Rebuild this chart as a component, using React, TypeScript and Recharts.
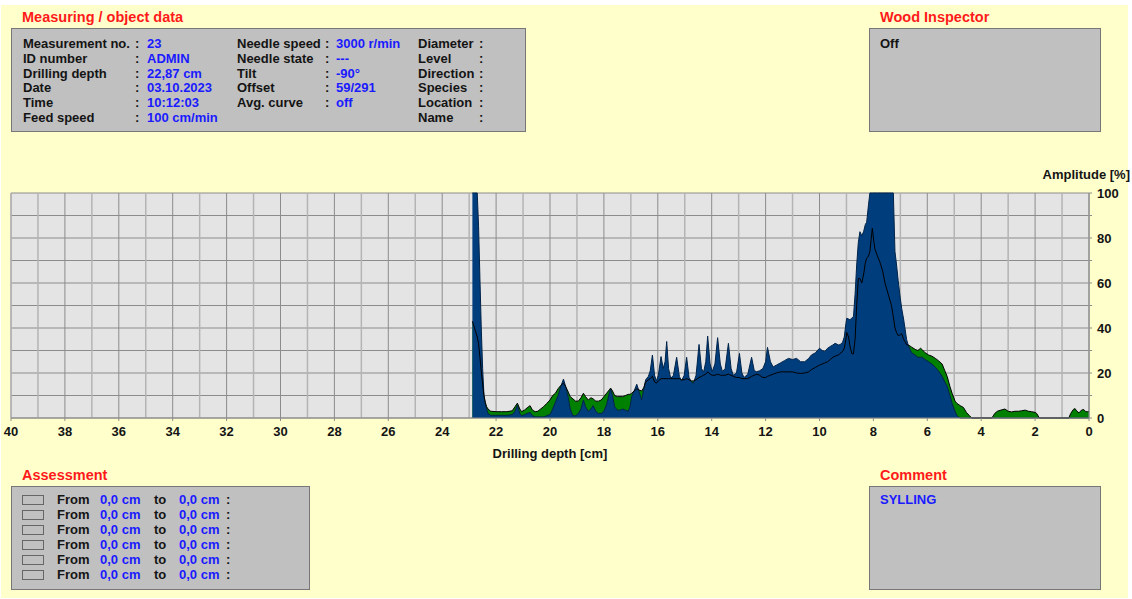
import { ComposedChart, Area, Line, XAxis, YAxis, CartesianGrid } from "recharts"

// drilling depth [cm], left to right (40 -> 0 axis)
const depth = [
  22.88, 22.8, 22.7, 22.65, 22.6, 22.55, 22.5, 22.45, 22.4, 22.35, 22.3, 22.2, 22.0, 21.8, 21.6, 21.4, 21.3, 21.21,
  21.12, 21.05, 20.95, 20.85, 20.74, 20.65, 20.55, 20.45, 20.35, 20.24, 20.12, 20.0, 19.9, 19.8, 19.7, 19.6, 19.5,
  19.42, 19.32, 19.25, 19.15, 19.05, 18.95, 18.85, 18.76, 18.68, 18.58, 18.48, 18.4, 18.3, 18.2, 18.1, 18.0, 17.9,
  17.8, 17.75, 17.68, 17.6, 17.5, 17.4, 17.3, 17.2, 17.1, 17.03, 16.97, 16.88, 16.78, 16.7, 16.6, 16.52, 16.45,
  16.35, 16.28, 16.2, 16.12, 16.05, 15.98, 15.88, 15.8, 15.73, 15.67, 15.6, 15.52, 15.42, 15.3, 15.2, 15.12, 15.02,
  14.93, 14.84, 14.75, 14.68, 14.58, 14.47, 14.38, 14.3, 14.22, 14.15, 14.06, 13.98, 13.88, 13.78, 13.68, 13.6,
  13.5, 13.38, 13.28, 13.2, 13.08, 12.97, 12.88, 12.8, 12.66, 12.52, 12.42, 12.33, 12.22, 12.1, 12.0, 11.93, 11.82,
  11.72, 11.6, 11.45, 11.3, 11.15, 11.0, 10.85, 10.7, 10.55, 10.4, 10.3, 10.15, 10.0, 9.9, 9.8, 9.7, 9.6, 9.5,
  9.42, 9.3, 9.24, 9.15, 9.08, 9.02, 8.99, 8.92, 8.87, 8.8, 8.74, 8.68, 8.62, 8.56, 8.5, 8.43, 8.36, 8.3, 8.25,
  8.18, 8.13, 8.08, 8.04, 7.98, 7.94, 7.85, 7.75, 7.65, 7.57, 7.45, 7.33, 7.26, 7.2, 7.14, 7.08, 7.0, 6.95, 6.88,
  6.83, 6.77, 6.7, 6.64, 6.58, 6.45, 6.35, 6.25, 6.2, 6.08, 5.95, 5.83, 5.7, 5.59, 5.45, 5.35, 5.26, 5.16, 5.08,
  4.97, 4.9, 4.78, 4.66, 4.55, 4.45, 4.35, 3.6, 3.5, 3.4, 3.3, 3.12, 3.0, 2.87, 2.75, 2.62, 2.5, 2.37, 2.25, 2.13,
  2.0, 1.94, 1.84, 0.75, 0.68, 0.58, 0.52, 0.45, 0.37, 0.28, 0.2, 0.12, 0.05, 0.0,
]

// drilling resistance amplitude [%] (blue)
const amplitude = [
  100, 100, 100, 85, 62, 40, 22, 10, 6, 4, 2, 1.2, 1.2, 1.2, 1.2, 1.5, 3, 5.6,
  2, 1, 1.5, 2, 2.5, 1, 0.5, 0.5, 0.5, 0.5, 1, 1.6, 4, 7, 10, 14, 17.3,
  14, 9, 4, 1, 1, 2, 4, 8, 5, 3, 4, 5.5, 3, 2, 2, 3, 6,
  11, 12.8, 10, 5, 3.5, 3.5, 4, 3.5, 3, 5, 9.5, 12, 15, 12, 8, 13, 17,
  18.5, 21, 28, 19, 16.5, 19, 27.3, 22, 25, 34, 22, 17.6, 19, 27, 18.5, 16.5, 19,
  27, 18, 16, 15.4, 19, 32.7, 22, 20.4, 25, 36.4, 24, 20.6, 24, 35.7, 24, 20.6,
  22, 33.2, 22, 19, 20, 28.7, 20, 18, 19.5, 27, 21, 20.6, 21, 22, 25, 31.4, 25,
  22.7, 23.5, 24.5, 25.5, 26.5, 26, 26.5, 25, 25, 26.5, 28, 29, 31, 30, 29.6, 31, 31.8, 32.5,
  33.2, 32.5, 32.6, 33.5, 36, 42, 44.3, 44, 43.6, 44.5, 45, 55, 68, 78, 82.8, 81, 83, 86, 87,
  95, 100, 100, 100, 100, 100, 100, 100, 100, 100, 100, 100, 100, 74, 68, 61, 53, 48.7, 44,
  40, 35, 32, 30.5, 29, 28, 27, 27, 27, 26, 25, 24, 22.5, 21, 18.5, 16, 14, 10, 6.5,
  3, 1, 0, 0, 0, 0, 0, 0, 0, 0, 0, 0, 0, 0, 0, 0, 0, 0, 0, 0,
  0, 0, 0, 0, 0, 0, 0, 0, 0, 0, 0, 0, 0, 0,
]

// feed curve [%] (green, black outline)
const feed = [
  43, 40, 36, 33, 27, 21, 15, 10, 7, 5, 4, 3, 2.8, 2.8, 2.8, 3.2, 5, 6.6,
  4, 2.8, 3.5, 4.5, 5.5, 3.5, 2.8, 3, 4, 5, 6.5, 8, 10, 11, 13, 14.5, 15.5,
  14, 11.5, 9.5, 8.5, 7.5, 7.5, 9, 11, 9.5, 8, 9, 8.5, 7.5, 7.5, 8, 9.5, 11,
  12.5, 13.3, 12, 10, 9.5, 9.5, 9.5, 10, 10.5, 10.5, 11, 12, 13, 12.5, 12, 13.5, 16,
  17, 17.5, 18.5, 16, 15.5, 16.5, 17.5, 17.5, 17.5, 17.5, 17.5, 17.5, 17.5, 17.5, 17.5, 17, 17,
  17.5, 17, 16.5, 16.5, 17, 18, 18.5, 19, 19.5, 20.5, 19.5, 19, 19, 19.5, 19, 19,
  19, 19.5, 19, 18.5, 18, 18, 17.5, 17.5, 17.5, 18.5, 19, 19.5, 19, 18, 18, 18.5, 19,
  19.5, 20, 20.5, 20.5, 20.5, 20.5, 20, 19.8, 20, 20.5, 21.5, 22.5, 23.5, 24, 24.5, 25, 26, 27,
  27.5, 28, 28.6, 29.5, 31, 35, 38, 36, 32, 28.6, 28.5, 35, 50, 62, 62, 60, 64, 69, 71,
  72, 74, 80, 84.3, 78, 75, 72, 69, 65, 60, 55, 50, 45, 40, 38, 36.6, 37, 37.5, 35,
  34, 32.6, 32.4, 32, 31.5, 30.5, 30, 31, 30.5, 29, 28, 27.5, 26.5, 25.5, 24, 21, 18.4, 14, 11,
  7.5, 6.5, 5.5, 4.7, 2.5, 1.2, 0, 0, 2, 3, 3.4, 4, 3, 2.7, 3, 3, 3.2, 3.5, 3, 2.8,
  2.5, 2, 0, 0, 2, 3.8, 4.2, 3, 2.3, 3.5, 3.8, 2.8, 2.8, 2.8,
]

const depthTicks = [0, 2, 4, 6, 8, 10, 12, 14, 16, 18, 20, 22, 24, 26, 28, 30, 32, 34, 36, 38, 40]
const oddDepthLines = [1, 3, 5, 7, 9, 11, 13, 15, 17, 19, 21, 23, 25, 27, 29, 31, 33, 35, 37, 39]
const amplitudeTicks = [0, 10, 20, 30, 40, 50, 60, 70, 80, 90, 100]

const measureLabels = ["Measurement no.", "ID number", "Drilling depth", "Date", "Time", "Feed speed"]
const measureValues = ["23", "ADMIN", "22,87 cm", "03.10.2023", "10:12:03", "100 cm/min"]
const needleLabels = ["Needle speed", "Needle state", "Tilt", "Offset", "Avg. curve"]
const needleValues = ["3000 r/min", "---", "-90°", "59/291", "off"]
const objectLabels = ["Diameter", "Level", "Direction", "Species", "Location", "Name"]
const assessmentRows = [
  { from: "0,0 cm", to: "0,0 cm" },
  { from: "0,0 cm", to: "0,0 cm" },
  { from: "0,0 cm", to: "0,0 cm" },
  { from: "0,0 cm", to: "0,0 cm" },
  { from: "0,0 cm", to: "0,0 cm" },
  { from: "0,0 cm", to: "0,0 cm" },
]

const rows = depth.map((d, i) => ({ depth: d, amplitude: amplitude[i], feed: feed[i] }))

const FONT = "'Liberation Sans', Arial, sans-serif"
const RED = "#ff1a1a"
const BLUE = "#1a1aff"
const INK = "#141414"

const title = (text: string, left: number, top: number) => (
  <div style={{ position: "absolute", left, top, color: RED, fontSize: 14.5, fontWeight: 700 }}>{text}</div>
)

const panel = (left: number, top: number, width: number, height: number) => (
  <div
    style={{
      position: "absolute",
      left,
      top,
      width: width - 2,
      height: height - 2,
      background: "#c0c0c0",
      border: "1px solid #777",
    }}
  />
)

const textAt = (text: string, left: number, top: number, color = INK) => (
  <div style={{ position: "absolute", left, top, color, fontSize: 13, fontWeight: 700, whiteSpace: "pre" }}>{text}</div>
)

export default function App() {
  const rowH = 14.8
  const r0 = 36
  return (
    <div style={{ position: "absolute", left: 0, top: 0, width: 1132, height: 599, background: "#fff", fontFamily: FONT, overflow: "hidden" }}>
      <div style={{ position: "absolute", left: 1, top: 5, width: 1127, height: 593, background: "#ffffcc" }} />

      {title("Measuring / object data", 22, 9)}
      {panel(11, 28, 515, 104)}
      {measureLabels.map((l, i) => (
        <div key={l}>
          {textAt(l, 23, r0 + i * rowH)}
          {textAt(":", 135, r0 + i * rowH)}
          {textAt(measureValues[i], 147, r0 + i * rowH, BLUE)}
        </div>
      ))}
      {needleLabels.map((l, i) => (
        <div key={l}>
          {textAt(l, 237, r0 + i * rowH)}
          {textAt(":", 325, r0 + i * rowH)}
          {textAt(needleValues[i], 336, r0 + i * rowH, BLUE)}
        </div>
      ))}
      {objectLabels.map((l, i) => (
        <div key={l}>
          {textAt(l, 418, r0 + i * rowH)}
          {textAt(":", 479, r0 + i * rowH)}
        </div>
      ))}

      {title("Wood Inspector", 880, 9)}
      {panel(869, 28, 232, 104)}
      {textAt("Off", 880, r0)}

      <div style={{ position: "absolute", right: 2, top: 167, fontSize: 13, fontWeight: 700, color: INK }}>Amplitude [%]</div>

      <div style={{ position: "absolute", left: 0, top: 160 }}>
        <ComposedChart width={1132} height={310} data={rows} margin={{ top: 33, right: 3, bottom: 22, left: 11 }}>
          <CartesianGrid stroke="#8c8c8c" fill="#e4e4e4" strokeWidth={1} />
          <CartesianGrid xAxisId="odd" horizontal={false} stroke="#b4b4b4" strokeWidth={1.5} />
          <XAxis
            dataKey="depth"
            type="number"
            domain={[0, 40]}
            reversed
            ticks={depthTicks}
            interval={0}
            tickSize={3}
            tickMargin={6}
            axisLine={{ stroke: "#8c8c8c" }}
            tickLine={{ stroke: "#8c8c8c" }}
            tick={{ fill: INK, fontSize: 13, fontWeight: 700, fontFamily: FONT }}
            height={30}
          />
          <XAxis xAxisId="odd" dataKey="depth" type="number" domain={[0, 40]} reversed ticks={oddDepthLines} interval={0} hide />
          <YAxis
            orientation="right"
            type="number"
            domain={[0, 100]}
            ticks={amplitudeTicks}
            interval={0}
            tickFormatter={(v: number) => (v % 20 === 0 ? String(v) : "")}
            tickSize={3}
            tickMargin={5}
            axisLine={{ stroke: "#8c8c8c" }}
            tickLine={{ stroke: "#8c8c8c" }}
            tick={{ fill: INK, fontSize: 13, fontWeight: 700, fontFamily: FONT, textAnchor: "start" }}
            width={40}
          />
          <Area
            dataKey="feed"
            type="linear"
            fill="#008000"
            fillOpacity={1}
            stroke="none"
            isAnimationActive={false}
            dot={false}
            activeDot={false}
          />
          <Area
            dataKey="amplitude"
            type="linear"
            fill="#003d7c"
            fillOpacity={1}
            stroke="#00234a"
            strokeWidth={1}
            isAnimationActive={false}
            dot={false}
            activeDot={false}
          />
          <Line
            dataKey="feed"
            type="linear"
            stroke="#000"
            strokeWidth={1}
            dot={false}
            activeDot={false}
            isAnimationActive={false}
          />
        </ComposedChart>
      </div>

      <div style={{ position: "absolute", left: 0, width: 1100, top: 446, textAlign: "center", fontSize: 13, fontWeight: 700, color: INK }}>
        Drilling depth [cm]
      </div>

      {title("Assessment", 22, 467)}
      {panel(11, 486, 299, 104)}
      {assessmentRows.map((r, i) => (
        <div key={i}>
          <div style={{ position: "absolute", left: 22, top: 495 + i * 15, width: 20, height: 8, border: "1px solid #666", background: "#c0c0c0" }} />
          {textAt("From", 57, 492 + i * 15)}
          {textAt(r.from, 100, 492 + i * 15, BLUE)}
          {textAt("to", 154, 492 + i * 15)}
          {textAt(r.to, 179, 492 + i * 15, BLUE)}
          {textAt(":", 226, 492 + i * 15)}
        </div>
      ))}

      {title("Comment", 880, 467)}
      {panel(869, 486, 232, 104)}
      {textAt("SYLLING", 880, 492, BLUE)}
    </div>
  )
}
